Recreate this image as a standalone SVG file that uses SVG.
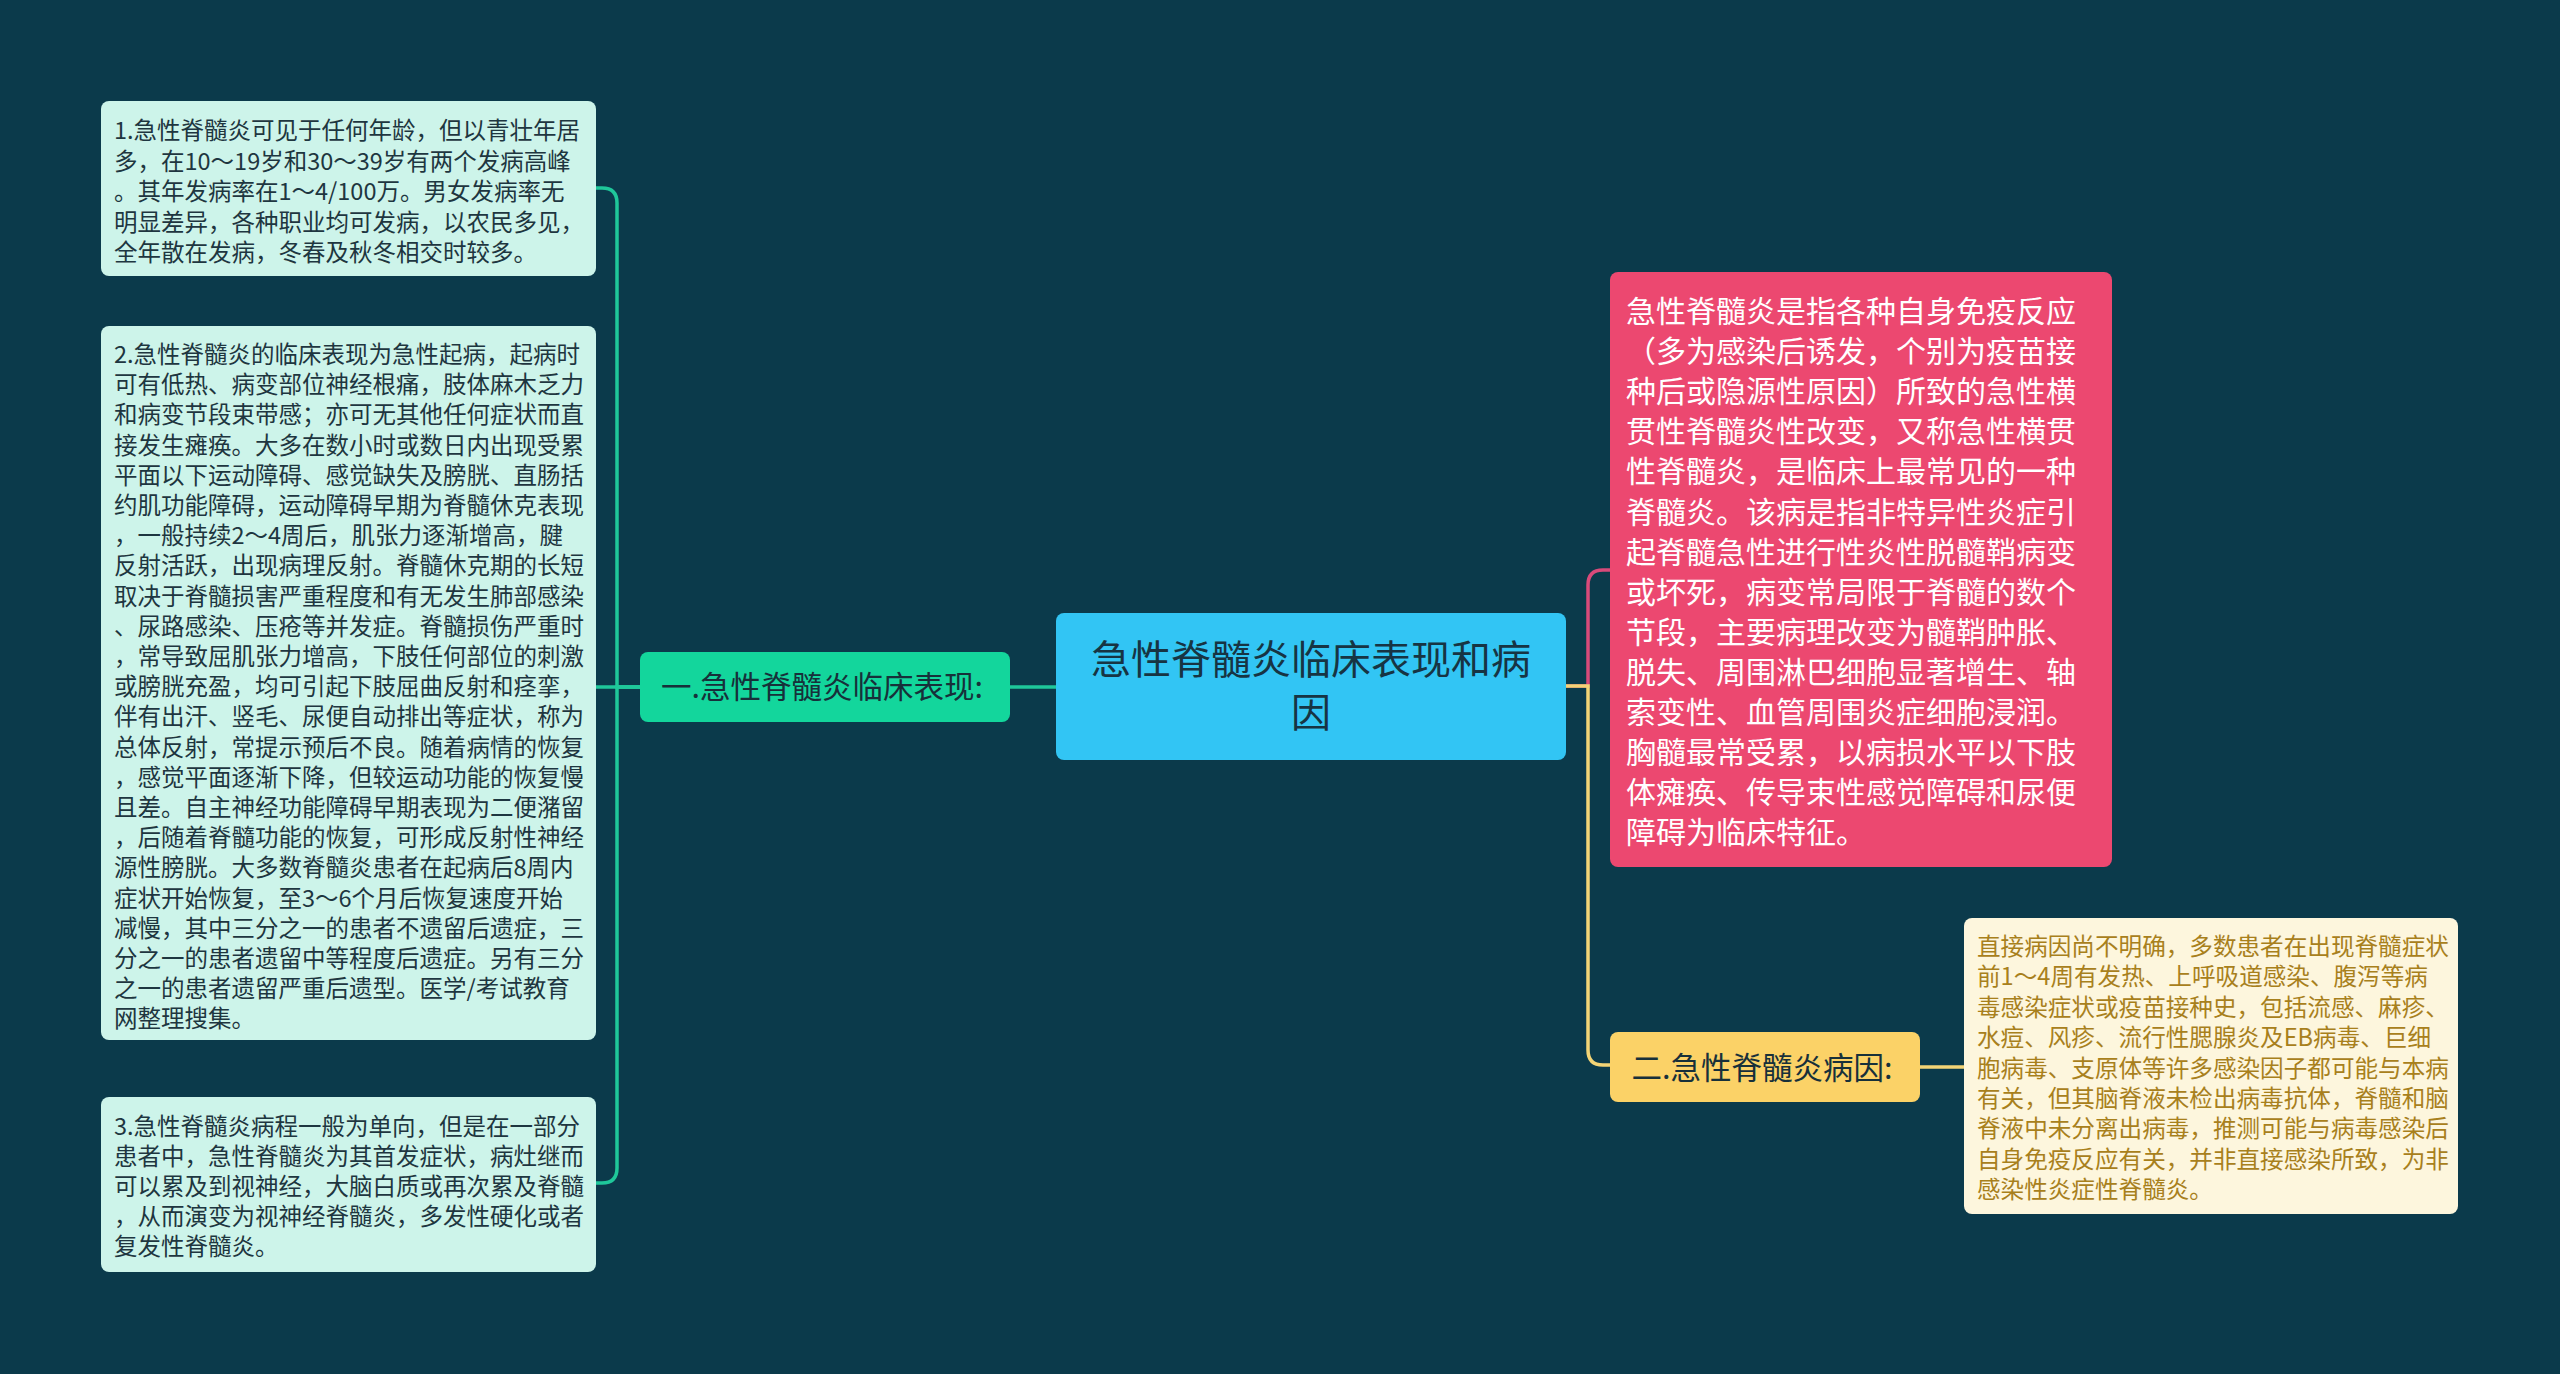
<svg xmlns="http://www.w3.org/2000/svg" width="2560" height="1374" viewBox="0 0 2560 1374">
<style>
.bg{fill:#0b3a4b}
.leaf{fill:#cdf4ea}
.leaft{font-family:"Noto Sans CJK SC","Noto Sans",sans-serif;font-size:23.5px;fill:#1e3640}
.pinkt{font-family:"Noto Sans CJK SC","Noto Sans",sans-serif;font-size:30px;fill:#ffffff}
.yelt{font-family:"Noto Sans CJK SC","Noto Sans",sans-serif;font-size:23.6px;fill:#a8801c}
.lbl{font-family:"Noto Sans CJK SC","Noto Sans",sans-serif;font-size:30.5px;fill:#17303a;text-anchor:middle}
.ctr{font-family:"Noto Sans CJK SC","Noto Sans",sans-serif;font-size:40px;fill:#173443;text-anchor:middle}
.cg{fill:none;stroke:#1fc79a;stroke-width:3.5}
.cp{fill:none;stroke:#d94a7a;stroke-width:3.5}
.cy{fill:none;stroke:#f3d476;stroke-width:3.5}
</style>
<rect class="bg" x="0" y="0" width="2560" height="1374"/>
<g id="connectors">
<path class="cg" d="M1056,687 H1010"/>
<path class="cg" d="M640,687 H617 V203 Q617,188 602,188 H596"/>
<path class="cg" d="M640,687 H596"/>
<path class="cg" d="M640,687 H617 V1168 Q617,1183 602,1183 H596"/>
<path class="cp" d="M1566,686 H1588 V585 Q1588,570 1603,570 H1610"/>
<path class="cy" d="M1566,686 H1588 V1050 Q1588,1065 1603,1065 H1610"/>
<path class="cy" d="M1920,1067 H1964"/>
</g>
<g id="center">
<rect x="1056" y="613" width="510" height="147" rx="8" fill="#32c5f4"/>
<text class="ctr" x="1311" y="674">急性脊髓炎临床表现和病</text>
<text class="ctr" x="1311" y="727">因</text>
</g>
<g id="branch1">
<rect x="640" y="652" width="370" height="70" rx="8" fill="#13d69c"/>
<text class="lbl" x="822" y="698">一.急性脊髓炎临床表现:</text>
</g>
<g id="leaf1">
<rect class="leaf" x="101" y="101" width="495" height="175" rx="8"/>
<text class="leaft">
<tspan x="114" y="139">1.急性脊髓炎可见于任何年龄，但以青壮年居</tspan>
<tspan x="114" y="169.5">多，在10～19岁和30～39岁有两个发病高峰</tspan>
<tspan x="114" y="200">。其年发病率在1～4/100万。男女发病率无</tspan>
<tspan x="114" y="230.5">明显差异，各种职业均可发病，以农民多见，</tspan>
<tspan x="114" y="261">全年散在发病，冬春及秋冬相交时较多。</tspan>
</text>
</g>
<g id="leaf2">
<rect class="leaf" x="101" y="326" width="495" height="714" rx="8"/>
<text class="leaft">
<tspan x="114" y="363">2.急性脊髓炎的临床表现为急性起病，起病时</tspan>
<tspan x="114" y="393.2">可有低热、病变部位神经根痛，肢体麻木乏力</tspan>
<tspan x="114" y="423.4">和病变节段束带感；亦可无其他任何症状而直</tspan>
<tspan x="114" y="453.6">接发生瘫痪。大多在数小时或数日内出现受累</tspan>
<tspan x="114" y="483.8">平面以下运动障碍、感觉缺失及膀胱、直肠括</tspan>
<tspan x="114" y="514">约肌功能障碍，运动障碍早期为脊髓休克表现</tspan>
<tspan x="114" y="544.2">，一般持续2～4周后，肌张力逐渐增高，腱</tspan>
<tspan x="114" y="574.4">反射活跃，出现病理反射。脊髓休克期的长短</tspan>
<tspan x="114" y="604.6">取决于脊髓损害严重程度和有无发生肺部感染</tspan>
<tspan x="114" y="634.8">、尿路感染、压疮等并发症。脊髓损伤严重时</tspan>
<tspan x="114" y="665">，常导致屈肌张力增高，下肢任何部位的刺激</tspan>
<tspan x="114" y="695.2">或膀胱充盈，均可引起下肢屈曲反射和痉挛，</tspan>
<tspan x="114" y="725.4">伴有出汗、竖毛、尿便自动排出等症状，称为</tspan>
<tspan x="114" y="755.6">总体反射，常提示预后不良。随着病情的恢复</tspan>
<tspan x="114" y="785.8">，感觉平面逐渐下降，但较运动功能的恢复慢</tspan>
<tspan x="114" y="816">且差。自主神经功能障碍早期表现为二便潴留</tspan>
<tspan x="114" y="846.2">，后随着脊髓功能的恢复，可形成反射性神经</tspan>
<tspan x="114" y="876.4">源性膀胱。大多数脊髓炎患者在起病后8周内</tspan>
<tspan x="114" y="906.6">症状开始恢复，至3～6个月后恢复速度开始</tspan>
<tspan x="114" y="936.8">减慢，其中三分之一的患者不遗留后遗症，三</tspan>
<tspan x="114" y="967">分之一的患者遗留中等程度后遗症。另有三分</tspan>
<tspan x="114" y="997.2">之一的患者遗留严重后遗型。医学/考试教育</tspan>
<tspan x="114" y="1027.4">网整理搜集。</tspan>
</text>
</g>
<g id="leaf3">
<rect class="leaf" x="101" y="1097" width="495" height="175" rx="8"/>
<text class="leaft">
<tspan x="114" y="1135">3.急性脊髓炎病程一般为单向，但是在一部分</tspan>
<tspan x="114" y="1165">患者中，急性脊髓炎为其首发症状，病灶继而</tspan>
<tspan x="114" y="1195">可以累及到视神经，大脑白质或再次累及脊髓</tspan>
<tspan x="114" y="1225">，从而演变为视神经脊髓炎，多发性硬化或者</tspan>
<tspan x="114" y="1255">复发性脊髓炎。</tspan>
</text>
</g>
<g id="pink">
<rect x="1610" y="272" width="502" height="595" rx="8" fill="#ec4870"/>
<text class="pinkt">
<tspan x="1626" y="322">急性脊髓炎是指各种自身免疫反应</tspan>
<tspan x="1626" y="362.1">（多为感染后诱发，个别为疫苗接</tspan>
<tspan x="1626" y="402.2">种后或隐源性原因）所致的急性横</tspan>
<tspan x="1626" y="442.3">贯性脊髓炎性改变，又称急性横贯</tspan>
<tspan x="1626" y="482.4">性脊髓炎，是临床上最常见的一种</tspan>
<tspan x="1626" y="522.5">脊髓炎。该病是指非特异性炎症引</tspan>
<tspan x="1626" y="562.6">起脊髓急性进行性炎性脱髓鞘病变</tspan>
<tspan x="1626" y="602.7">或坏死，病变常局限于脊髓的数个</tspan>
<tspan x="1626" y="642.8">节段，主要病理改变为髓鞘肿胀、</tspan>
<tspan x="1626" y="682.9">脱失、周围淋巴细胞显著增生、轴</tspan>
<tspan x="1626" y="723">索变性、血管周围炎症细胞浸润。</tspan>
<tspan x="1626" y="763.1">胸髓最常受累，以病损水平以下肢</tspan>
<tspan x="1626" y="803.2">体瘫痪、传导束性感觉障碍和尿便</tspan>
<tspan x="1626" y="843.3">障碍为临床特征。</tspan>
</text>
</g>
<g id="branch2">
<rect x="1610" y="1032" width="310" height="70" rx="8" fill="#fbd267"/>
<text class="lbl" x="1762" y="1079">二.急性脊髓炎病因:</text>
</g>
<g id="yellowleaf">
<rect x="1964" y="918" width="494" height="296" rx="8" fill="#fdf6dd"/>
<text class="yelt">
<tspan x="1977" y="955">直接病因尚不明确，多数患者在出现脊髓症状</tspan>
<tspan x="1977" y="985.4">前1～4周有发热、上呼吸道感染、腹泻等病</tspan>
<tspan x="1977" y="1015.8">毒感染症状或疫苗接种史，包括流感、麻疹、</tspan>
<tspan x="1977" y="1046.2">水痘、风疹、流行性腮腺炎及EB病毒、巨细</tspan>
<tspan x="1977" y="1076.6">胞病毒、支原体等许多感染因子都可能与本病</tspan>
<tspan x="1977" y="1107">有关，但其脑脊液未检出病毒抗体，脊髓和脑</tspan>
<tspan x="1977" y="1137.4">脊液中未分离出病毒，推测可能与病毒感染后</tspan>
<tspan x="1977" y="1167.8">自身免疫反应有关，并非直接感染所致，为非</tspan>
<tspan x="1977" y="1198.2">感染性炎症性脊髓炎。</tspan>
</text>
</g>
</svg>
